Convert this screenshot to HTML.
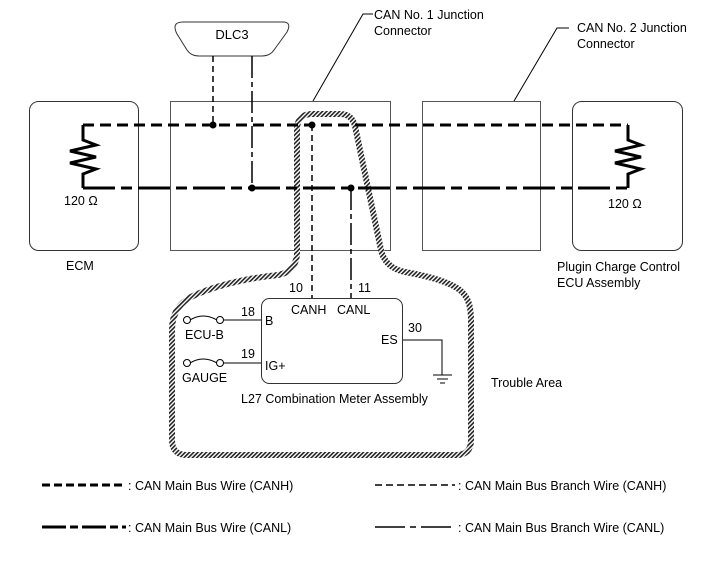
<!DOCTYPE html>
<html><head><meta charset="utf-8"><style>
html,body{margin:0;padding:0;background:#fff;}
svg{display:block;font-family:"Liberation Sans",Arial,sans-serif;}
</style></head><body>
<svg width="711" height="579" viewBox="0 0 711 579" xmlns="http://www.w3.org/2000/svg">
<defs>
<pattern id="h" width="3" height="3" patternUnits="userSpaceOnUse" patternTransform="rotate(45)">
<rect width="3" height="3" fill="#fff"/><rect width="1.6" height="3" fill="#222"/>
</pattern>
</defs>
<rect x="29.5" y="101.5" width="109" height="149" rx="9" fill="none" stroke="#333" stroke-width="1"/>
<rect x="170.5" y="101.5" width="220" height="149" fill="none" stroke="#555" stroke-width="1"/>
<rect x="422.5" y="101.5" width="118" height="149" fill="none" stroke="#555" stroke-width="1"/>
<rect x="572.5" y="101.5" width="110" height="149" rx="9" fill="none" stroke="#333" stroke-width="1"/>
<path d="M183,22 H283 Q292,22 287,32 L274,50 Q270,56 262,56 H199 Q191,56 187,50 L177,34 Q171,22 183,22 Z" fill="none" stroke="#333" stroke-width="1"/>
<text x="232" y="39" font-size="13" text-anchor="middle">DLC3</text>
<path d="M313,101 L363,14 H373" fill="none" stroke="#000" stroke-width="1"/>
<text x="374" y="19" font-size="12.5">CAN No. 1 Junction</text>
<text x="374" y="35" font-size="12.5">Connector</text>
<path d="M514,101 L557,28 H569" fill="none" stroke="#000" stroke-width="1"/>
<text x="577" y="32" font-size="12.5">CAN No. 2 Junction</text>
<text x="577" y="48" font-size="12.5">Connector</text>
<path d="M297,255 V130 Q297,114 312,114 H340 Q352,114 355,126 L381,250 Q385,268 405,272 Q450,280 462,292 Q471,300 471,320 V440 Q471,455 456,455 H187 Q172,455 172,440 V330 Q172,305 195,295 Q230,280 278,275 Q295,272 297,255 Z" fill="none" stroke="url(#h)" stroke-width="6"/>
<path d="M83,125 H628" stroke="#000" stroke-width="3" stroke-dasharray="11,6" fill="none"/>
<path d="M83,188 H628" stroke="#000" stroke-width="3" stroke-dasharray="32,6,11,6" fill="none"/>
<path d="M83,125 V140 L96,145 L70,151 L96,157 L70,163 L96,169 L83,174 V188" fill="none" stroke="#000" stroke-width="3"/>
<path d="M628,125 V140 L641,145 L615,151 L641,157 L615,163 L641,169 L628,174 V188" fill="none" stroke="#000" stroke-width="3"/>
<text x="64" y="205" font-size="12.5">120 Ω</text>
<text x="608" y="208" font-size="12.5">120 Ω</text>
<text x="66" y="270" font-size="12.5">ECM</text>
<text x="557" y="271" font-size="12.5">Plugin Charge Control</text>
<text x="557" y="287" font-size="12.5">ECU Assembly</text>
<path d="M213,56 V125" stroke="#000" stroke-width="1.5" stroke-dasharray="6,4"/>
<path d="M252,56 V188" stroke="#000" stroke-width="1.5" stroke-dasharray="22,4,5,4"/>
<path d="M312,125 V298" stroke="#000" stroke-width="1.5" stroke-dasharray="6,4"/>
<path d="M351,188 V298" stroke="#000" stroke-width="1.5" stroke-dasharray="22,4,5,4"/>
<circle cx="213" cy="125" r="3.5"/><circle cx="252" cy="188" r="3.5"/>
<circle cx="312" cy="125" r="3.5"/><circle cx="351" cy="188" r="3.5"/>
<rect x="261.5" y="298.5" width="141" height="85" rx="8" fill="none" stroke="#333" stroke-width="1"/>
<text x="289" y="292" font-size="12.5">10</text>
<text x="358" y="292" font-size="12.5">11</text>
<text x="291" y="314" font-size="12.5">CANH</text>
<text x="337" y="314" font-size="12.5">CANL</text>
<text x="265" y="325" font-size="12.5">B</text>
<text x="265" y="370" font-size="12.5">IG+</text>
<text x="381" y="344" font-size="12.5">ES</text>
<text x="408" y="332" font-size="12.5">30</text>
<text x="241" y="316" font-size="12.5">18</text>
<text x="241" y="358" font-size="12.5">19</text>
<path d="M220,320 H261 M220,363 H261" stroke="#000" stroke-width="1"/>
<circle cx="187" cy="320" r="3.5" fill="#fff" stroke="#000"/><circle cx="220" cy="320" r="3.5" fill="#fff" stroke="#000"/>
<path d="M190,320 Q203,312 217,320" fill="none" stroke="#000"/>
<circle cx="187" cy="363" r="3.5" fill="#fff" stroke="#000"/><circle cx="220" cy="363" r="3.5" fill="#fff" stroke="#000"/>
<path d="M190,363 Q203,355 217,363" fill="none" stroke="#000"/>
<text x="185" y="339" font-size="12.5">ECU-B</text>
<text x="182" y="382" font-size="12.5">GAUGE</text>
<path d="M403,340 H442 V375 M433,375 H452 M437,379 H448 M440,383 H445" stroke="#000" stroke-width="1" fill="none"/>
<text x="241" y="403" font-size="12.5">L27 Combination Meter Assembly</text>
<text x="491" y="387" font-size="12.5">Trouble Area</text>
<path d="M42,485 H126" stroke="#000" stroke-width="3" stroke-dasharray="8,4"/>
<text x="128" y="490" font-size="12.5">: CAN Main Bus Wire (CANH)</text>
<path d="M375,485 H455" stroke="#000" stroke-width="1.5" stroke-dasharray="7,4"/>
<path d="M42,527 H126" stroke="#000" stroke-width="3" stroke-dasharray="24,4,8,4"/>
<text x="128" y="532" font-size="12.5">: CAN Main Bus Wire (CANL)</text>
<text x="458" y="490" font-size="12.5">: CAN Main Bus Branch Wire (CANH)</text>
<text x="458" y="532" font-size="12.5">: CAN Main Bus Branch Wire (CANL)</text>
<path d="M375,527 H455" stroke="#000" stroke-width="1.5" stroke-dasharray="30,5,6,5"/>
</svg>
</body></html>
